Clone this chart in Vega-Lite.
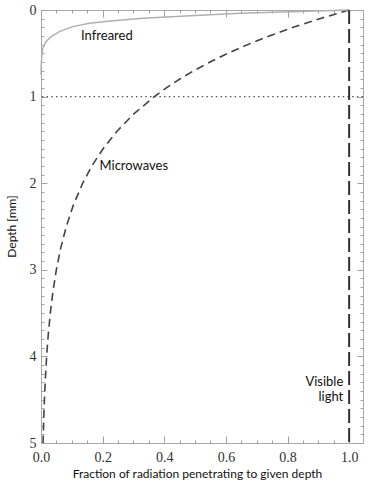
{
  "$schema": "https://vega.github.io/schema/vega-lite/v6.json",
  "autosize": {"type": "none"},
  "padding": {"left": 41, "top": 10, "right": 9, "bottom": 42},
  "width": 322,
  "height": 433,
  "background": "white",
  "config": {
    "view": {"stroke": "#a8a8a8", "strokeWidth": 1},
    "axis": {"grid": false, "domain": false, "tickColor": "#a0a0a0", "tickWidth": 1}
  },
  "datasets": {
    "microwaves": [
      {"depth": 0, "fraction": 1},
      {"depth": 0.1, "fraction": 0.9048},
      {"depth": 0.2, "fraction": 0.8187},
      {"depth": 0.3, "fraction": 0.7408},
      {"depth": 0.4, "fraction": 0.6703},
      {"depth": 0.5, "fraction": 0.6065},
      {"depth": 0.6, "fraction": 0.5488},
      {"depth": 0.7, "fraction": 0.4966},
      {"depth": 0.8, "fraction": 0.4493},
      {"depth": 0.9, "fraction": 0.4066},
      {"depth": 1.0, "fraction": 0.3679},
      {"depth": 1.2, "fraction": 0.3012},
      {"depth": 1.4, "fraction": 0.2466},
      {"depth": 1.6, "fraction": 0.2019},
      {"depth": 1.8, "fraction": 0.1653},
      {"depth": 2.0, "fraction": 0.1353},
      {"depth": 2.25, "fraction": 0.1054},
      {"depth": 2.5, "fraction": 0.0821},
      {"depth": 2.75, "fraction": 0.0639},
      {"depth": 3.0, "fraction": 0.0498},
      {"depth": 3.25, "fraction": 0.0388},
      {"depth": 3.5, "fraction": 0.0302},
      {"depth": 3.75, "fraction": 0.0235},
      {"depth": 4.0, "fraction": 0.0183},
      {"depth": 4.25, "fraction": 0.0143},
      {"depth": 4.5, "fraction": 0.0111},
      {"depth": 4.75, "fraction": 0.0087},
      {"depth": 5.0, "fraction": 0.0067}
    ],
    "infrared": [
      {"depth": 0, "fraction": 1.0},
      {"depth": 0.02, "fraction": 0.811},
      {"depth": 0.038, "fraction": 0.648},
      {"depth": 0.066, "fraction": 0.485},
      {"depth": 0.096, "fraction": 0.331},
      {"depth": 0.123, "fraction": 0.234},
      {"depth": 0.153, "fraction": 0.157},
      {"depth": 0.192, "fraction": 0.103},
      {"depth": 0.25, "fraction": 0.06},
      {"depth": 0.308, "fraction": 0.033},
      {"depth": 0.365, "fraction": 0.016},
      {"depth": 0.44, "fraction": 0.006},
      {"depth": 0.52, "fraction": 0.003},
      {"depth": 0.61, "fraction": 0.001},
      {"depth": 0.75, "fraction": 0.0}
    ],
    "labelsLeft": [
      {"label": "Infreared", "depth": 0.306, "fraction": 0.13},
      {"label": "Microwaves", "depth": 1.8, "fraction": 0.19}
    ],
    "labelsRight": [
      {"label": "Visible", "depth": 4.3, "fraction": 0.981},
      {"label": "light", "depth": 4.47, "fraction": 0.981}
    ],
    "visible": [{"fraction": 1.0}],
    "surface": [{"depth": 1.0}]
  },
  "resolve": {"axis": {"x": "independent", "y": "independent"}},
  "layer": [
    {
      "data": {"name": "microwaves"},
      "mark": {"type": "line", "color": "#444444", "strokeWidth": 1.6, "strokeDash": [8, 5]},
      "encoding": {
        "x": {
          "field": "fraction", "type": "quantitative",
          "scale": {"domain": [0, 1.045], "nice": false, "zero": false},
          "axis": {
            "orient": "bottom", "values": [0, 0.2, 0.4, 0.6, 0.8, 1.0], "format": ".1f",
            "ticks": false, "labelFlush": false, "labelFont": "Liberation Serif", "labelFontSize": 14,
            "labelColor": "#333333", "labelPadding": 7,
            "title": "Fraction of radiation penetrating to given depth",
            "titleFont": "Lato", "titleFontSize": 12, "titleFontWeight": "normal", "titleColor": "#111111",
            "titleX": 156, "titleY": 30, "titleAnchor": null, "titleAlign": "center", "titleBaseline": "middle"
          }
        },
        "y": {
          "field": "depth", "type": "quantitative",
          "scale": {"domain": [0, 5], "reverse": true, "nice": false, "zero": false},
          "axis": {
            "orient": "left", "values": [0, 1, 2, 3, 4, 5], "format": "d",
            "ticks": false, "labelFlush": false, "labelFont": "Liberation Serif", "labelFontSize": 14,
            "labelColor": "#333333", "labelPadding": 5,
            "title": "Depth [mm]",
            "titleFont": "Lato", "titleFontSize": 12, "titleFontWeight": "normal", "titleColor": "#111111",
            "titleX": -30, "titleY": 216, "titleAngle": 270, "titleAlign": "center", "titleBaseline": "middle"
          }
        },
        "order": {"field": "depth", "type": "quantitative"}
      }
    },
    {
      "data": {"name": "infrared"},
      "mark": {"type": "line", "color": "#b0b0b0", "strokeWidth": 1.5},
      "encoding": {
        "x": {
          "field": "fraction", "type": "quantitative",
          "axis": {"orient": "bottom", "values": [0, 0.2, 0.4, 0.6, 0.8, 1.0], "labels": false, "tickSize": -7, "title": null}
        },
        "y": {
          "field": "depth", "type": "quantitative",
          "axis": {"orient": "left", "values": [0, 1, 2, 3, 4, 5], "labels": false, "tickSize": -6, "title": null}
        },
        "order": {"field": "depth", "type": "quantitative"}
      }
    },
    {
      "data": {"name": "labelsLeft"},
      "mark": {"type": "text", "align": "left", "baseline": "middle", "font": "Lato", "fontSize": 13, "color": "#111111"},
      "encoding": {
        "x": {
          "field": "fraction", "type": "quantitative",
          "axis": {"orient": "bottom", "values": [0.05, 0.1, 0.15, 0.25, 0.3, 0.35, 0.45, 0.5, 0.55, 0.65, 0.7, 0.75, 0.85, 0.9, 0.95, 1.05], "labels": false, "tickSize": -3, "title": null}
        },
        "y": {
          "field": "depth", "type": "quantitative",
          "axis": {"orient": "left", "values": [0.1,0.2,0.3,0.4,0.5,0.6,0.7,0.8,0.9,1.1,1.2,1.3,1.4,1.5,1.6,1.7,1.8,1.9,2.1,2.2,2.3,2.4,2.5,2.6,2.7,2.8,2.9,3.1,3.2,3.3,3.4,3.5,3.6,3.7,3.8,3.9,4.1,4.2,4.3,4.4,4.5,4.6,4.7,4.8,4.9], "labels": false, "tickSize": -3, "title": null}
        },
        "text": {"field": "label"}
      }
    },
    {
      "data": {"name": "labelsRight"},
      "mark": {"type": "text", "align": "right", "baseline": "middle", "font": "Lato", "fontSize": 13, "color": "#111111"},
      "encoding": {
        "x": {
          "field": "fraction", "type": "quantitative",
          "axis": {"orient": "top", "values": [0, 0.2, 0.4, 0.6, 0.8, 1.0], "labels": false, "tickSize": -7, "title": null}
        },
        "y": {
          "field": "depth", "type": "quantitative",
          "axis": {"orient": "right", "values": [0, 1, 2, 3, 4, 5], "labels": false, "tickSize": -6, "title": null}
        },
        "text": {"field": "label"}
      }
    },
    {
      "data": {"name": "microwaves"},
      "mark": {"type": "point", "opacity": 0},
      "encoding": {
        "x": {
          "field": "fraction", "type": "quantitative",
          "axis": {"orient": "top", "values": [0.05, 0.1, 0.15, 0.25, 0.3, 0.35, 0.45, 0.5, 0.55, 0.65, 0.7, 0.75, 0.85, 0.9, 0.95], "labels": false, "tickSize": -3, "title": null}
        },
        "y": {
          "field": "depth", "type": "quantitative",
          "axis": {"orient": "right", "values": [0.1,0.2,0.3,0.4,0.5,0.6,0.7,0.8,0.9,1.1,1.2,1.3,1.4,1.5,1.6,1.7,1.8,1.9,2.1,2.2,2.3,2.4,2.5,2.6,2.7,2.8,2.9,3.1,3.2,3.3,3.4,3.5,3.6,3.7,3.8,3.9,4.1,4.2,4.3,4.4,4.5,4.6,4.7,4.8,4.9], "labels": false, "tickSize": -3, "title": null}
        }
      }
    },
    {
      "data": {"name": "surface"},
      "mark": {"type": "rule", "color": "#555555", "strokeWidth": 1.2, "strokeDash": [1.5, 3.2]},
      "encoding": {
        "y": {"field": "depth", "type": "quantitative", "axis": null}
      }
    },
    {
      "data": {"name": "visible"},
      "mark": {"type": "rule", "color": "#333333", "strokeWidth": 2, "strokeDash": [14, 5]},
      "encoding": {
        "x": {"field": "fraction", "type": "quantitative", "axis": null}
      }
    }
  ]
}
